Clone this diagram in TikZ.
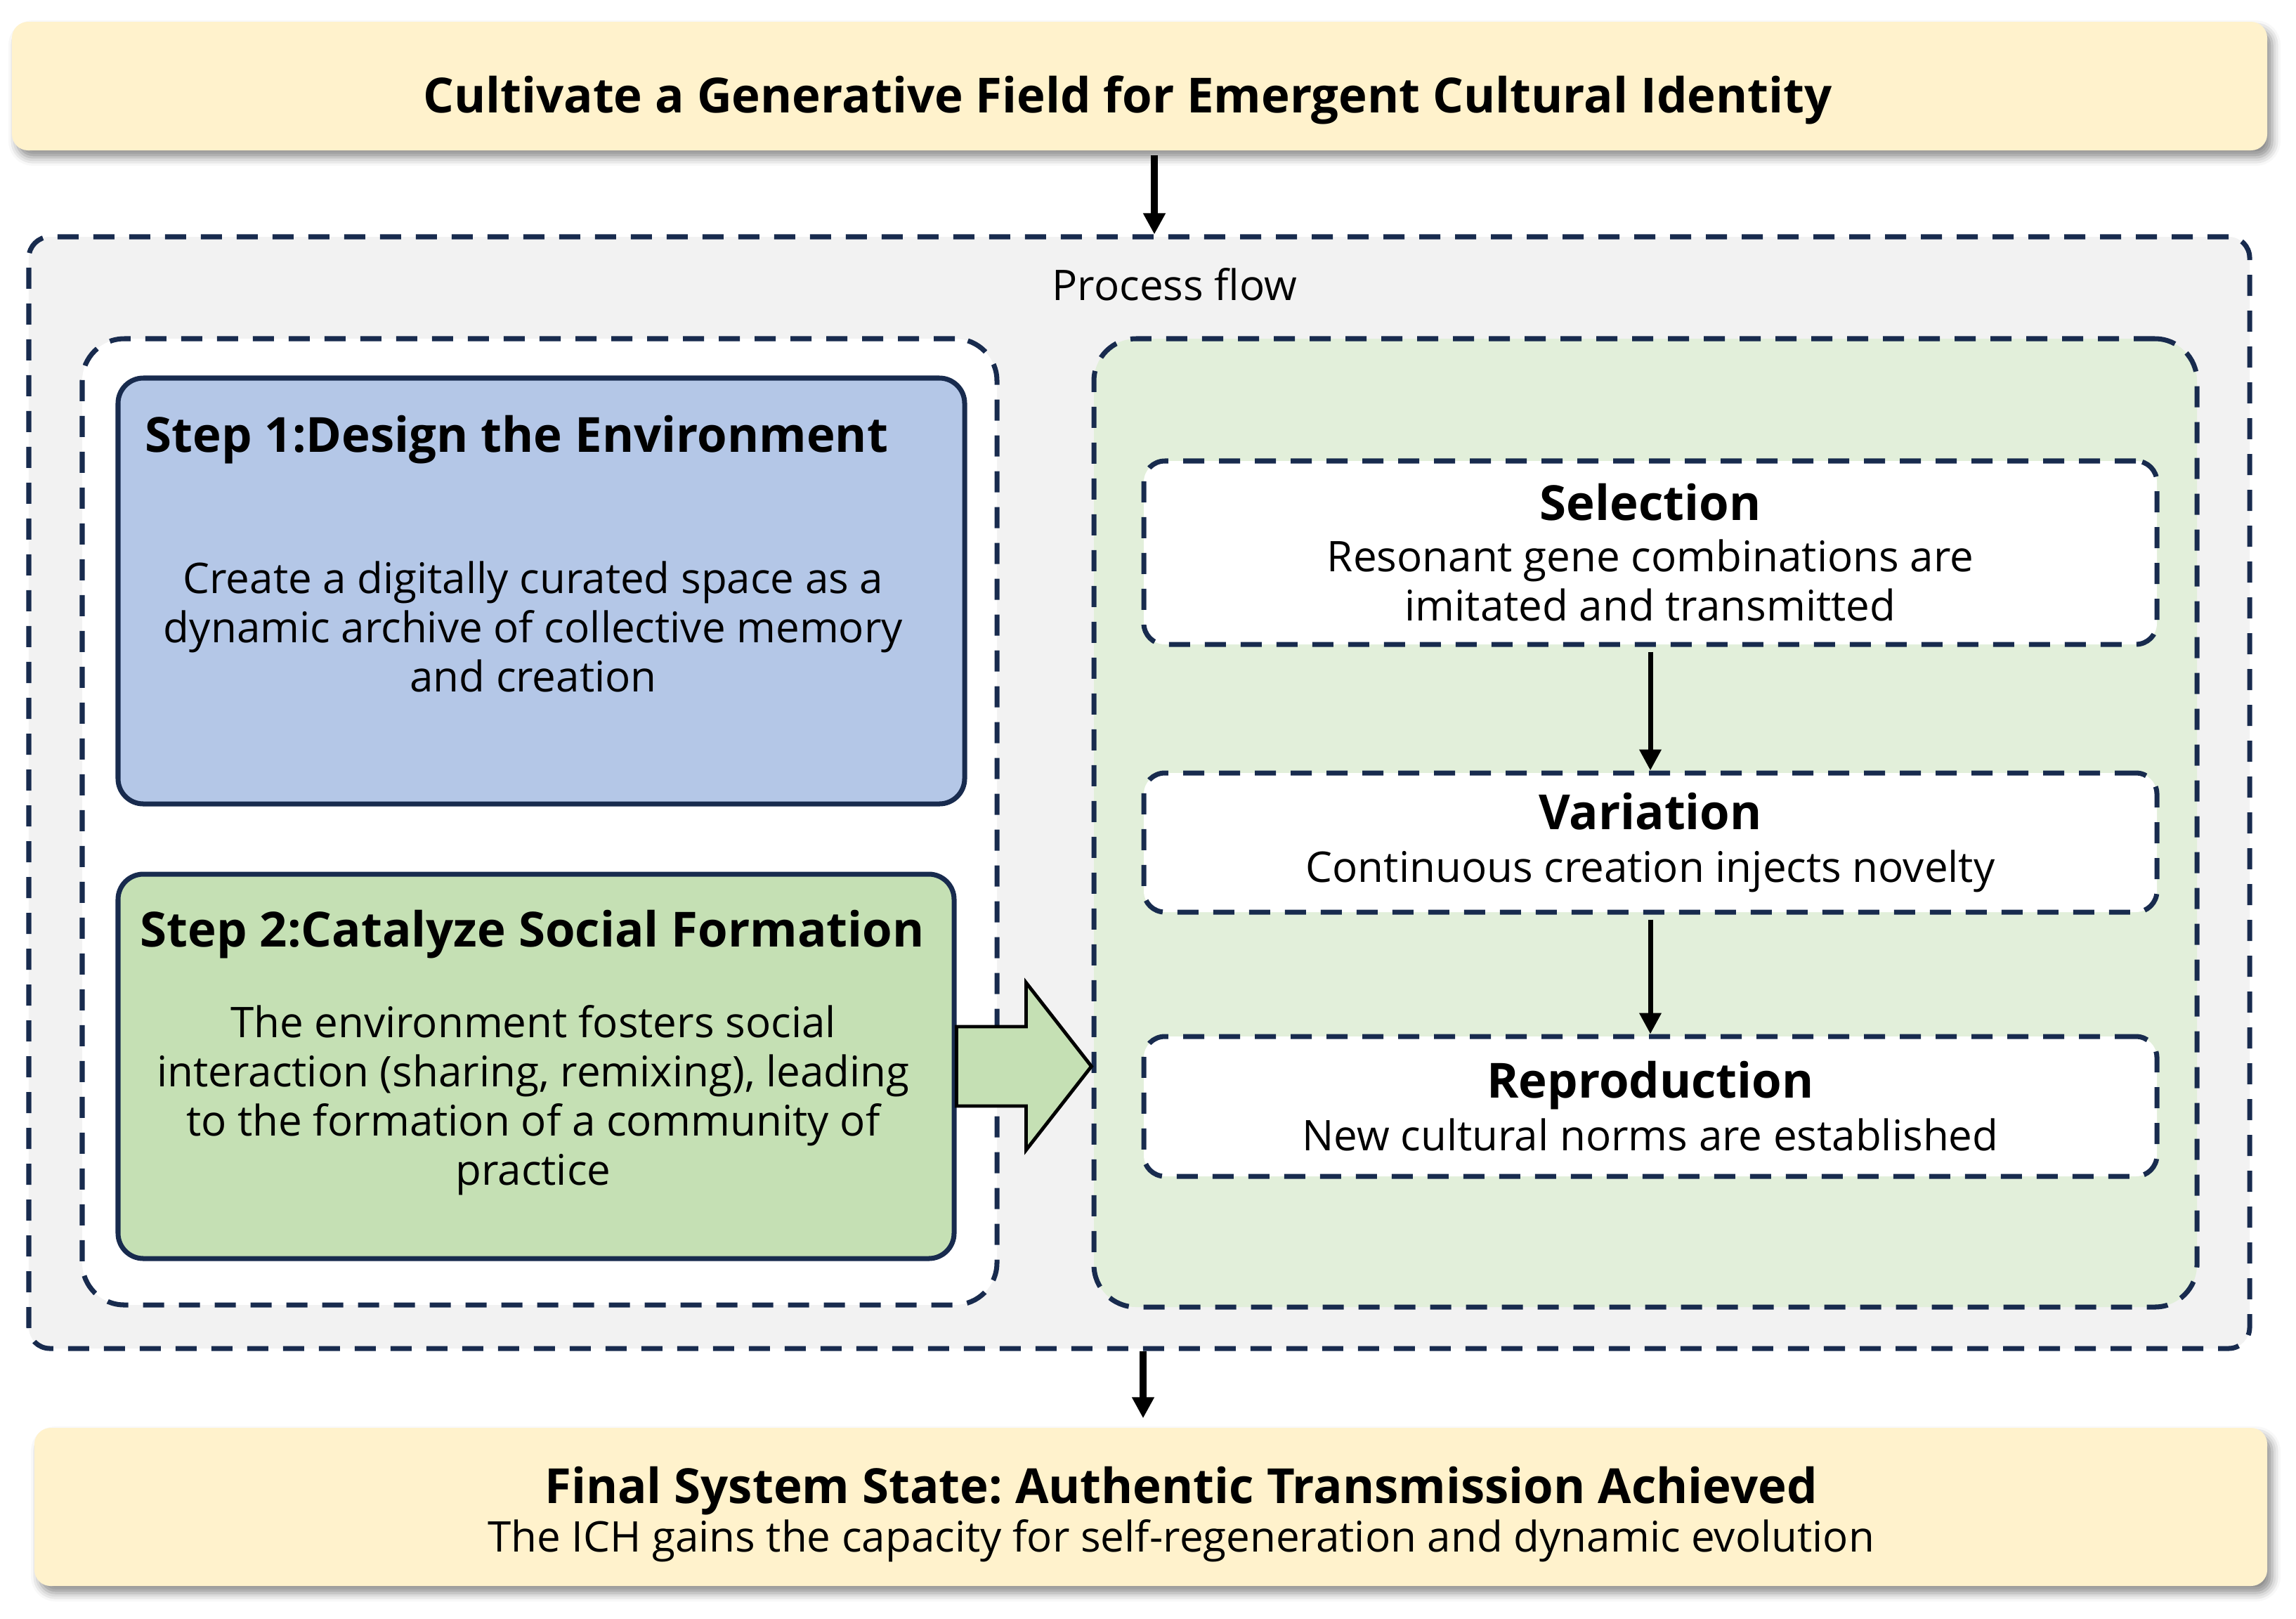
\documentclass[tikz,border=0pt]{standalone}
\usepackage{fontspec}
\setmainfont{Open Sans}
\frenchspacing
\usetikzlibrary{arrows.meta,positioning,calc,shadows.blur}
\definecolor{flowNavy}{RGB}{24,43,78}
\definecolor{flowCream}{RGB}{255,242,204}
\definecolor{flowGrey}{RGB}{242,242,242}
\definecolor{flowMint}{RGB}{226,239,218}
\definecolor{flowBlue}{RGB}{180,199,231}
\definecolor{flowSage}{RGB}{197,224,180}

\begin{document}
\begin{tikzpicture}[
  bodyfont/.style={font=\fontsize{17.1}{19.9}\selectfont},
  titlefont/.style={font=\fontsize{19.6}{23}\selectfont\bfseries},
  banner/.style={rectangle, rounded corners=0.23cm, fill=flowCream, draw=none,
                 blur shadow={shadow xshift=0.07cm, shadow yshift=-0.1cm,
                              shadow blur radius=0.12cm, shadow opacity=45}},
  panel/.style={rectangle, draw=flowNavy, line width=2pt,
                dash pattern=on 0.30cm off 0.21cm},
  stepbox/.style={rectangle, rounded corners=0.36cm, draw=flowNavy, line width=2pt},
  stagebox/.style={panel, rounded corners=0.3cm, fill=white,
                   minimum width=14.42cm, align=center, bodyfont, inner sep=0pt},
  mainarr/.style={-{Triangle[length=3mm,width=3mm]}, line width=2.85pt, black},
  stagearr/.style={-{Triangle[length=3mm,width=3mm]}, line width=2pt, black},
  bigarrow/.style={draw=black, fill=flowSage, line width=1.4pt, line join=miter},
]
\useasboundingbox (0,0) rectangle (32.68,-23.03);

%%──────────────────────────────────────────────────────────────────
%% TOP BANNER
%%──────────────────────────────────────────────────────────────────
\node[banner, minimum width=32.10cm, minimum height=1.83cm] (goal) at (16.22,-1.225) {};
\node[titlefont, anchor=base] (goaltxt) at (16.05,-1.60)
      {Cultivate a Generative Field for Emergent Cultural Identity};

%%──────────────────────────────────────────────────────────────────
%% PROCESS FLOW FRAME
%%──────────────────────────────────────────────────────────────────
\node[panel, rounded corners=0.3cm, fill=flowGrey,
      minimum width=31.61cm, minimum height=15.82cm] (flow) at (16.215,-11.28) {};
\node[bodyfont, anchor=base] (flowlbl) at (16.72,-4.27) {Process flow};

\coordinate (a1) at (16.43,0);
\draw[mainarr, shorten <=0.6mm] (goal.south -| a1) -- (flow.north -| a1);

% left panel: the two steps
\node[panel, rounded corners=0.6cm, fill=white,
      minimum width=13.02cm, minimum height=13.75cm] (left) at (7.68,-11.695) {};

\node[stepbox, fill=flowBlue, minimum width=12.05cm, minimum height=6.06cm]
      (s1) at (7.705,-8.41) {};
\node[titlefont, anchor=base west, inner sep=0pt] (s1t) at (2.06,-6.43)
      {Step 1:Design the Environment};
\node[bodyfont, align=center] (s1b) at (7.59,-8.92)
      {Create a digitally curated space as a\\
       dynamic archive of collective memory\\
       and creation};

\node[stepbox, fill=flowSage, minimum width=11.90cm, minimum height=5.47cm]
      (s2) at (7.63,-15.175) {};
\node[titlefont, anchor=base west, inner sep=0pt] (s2t) at (1.99,-13.47)
      {Step 2:Catalyze Social Formation};
\node[bodyfont, align=center] (s2b) at (7.59,-15.66)
      {The environment fosters social\\
       interaction (sharing, remixing), leading\\
       to the formation of a community of\\
       practice};

% right panel: evolutionary loop
\node[panel, rounded corners=0.6cm, fill=flowMint,
      minimum width=15.70cm, minimum height=13.78cm] (right) at (23.42,-11.71) {};

\node[stagebox, minimum height=2.61cm] (sel) at (23.49,-7.865)
      {{\fontsize{19.6}{23}\selectfont\bfseries Selection}\\[0.03cm]
       Resonant gene combinations are\\ imitated and transmitted};
\node[stagebox, minimum height=1.98cm] (var) at (23.49,-11.99)
      {{\fontsize{19.6}{23}\selectfont\bfseries Variation}\\[0.05cm]
       Continuous creation injects novelty};
\node[stagebox, minimum height=1.99cm] (rep) at (23.49,-15.745)
      {{\fontsize{19.6}{23}\selectfont\bfseries Reproduction}\\[0.05cm]
       New cultural norms are established};

\draw[stagearr, shorten <=0.7mm] (sel.south) -- (var.north);
\draw[stagearr, shorten <=0.7mm] (var.south) -- (rep.north);

% block arrow from step 2 into the loop
\draw[bigarrow] ($(s2.east)+(0,0.565)$) -- ++(0.99,0) -- ++(0,0.625)
      -- (right.west |- s2.east) -- ($(s2.east)+(0.99,-1.19)$)
      -- ++(0,0.625) -- ($(s2.east)+(0,-0.565)$) -- cycle;

%%──────────────────────────────────────────────────────────────────
%% FINAL STATE
%%──────────────────────────────────────────────────────────────────
\node[banner, minimum width=31.78cm, minimum height=2.25cm] (final) at (16.38,-21.445) {};
\node[bodyfont, align=center] (finaltxt) at (16.81,-21.55)
      {{\fontsize{19.6}{23}\selectfont\bfseries Final System State: Authentic Transmission Achieved}\\
       The ICH gains the capacity for self-regeneration and dynamic evolution};

\coordinate (a2) at (16.27,0);
\draw[mainarr, shorten >=1.3mm] (flow.south -| a2) -- (final.north -| a2);

\end{tikzpicture}
\end{document}
